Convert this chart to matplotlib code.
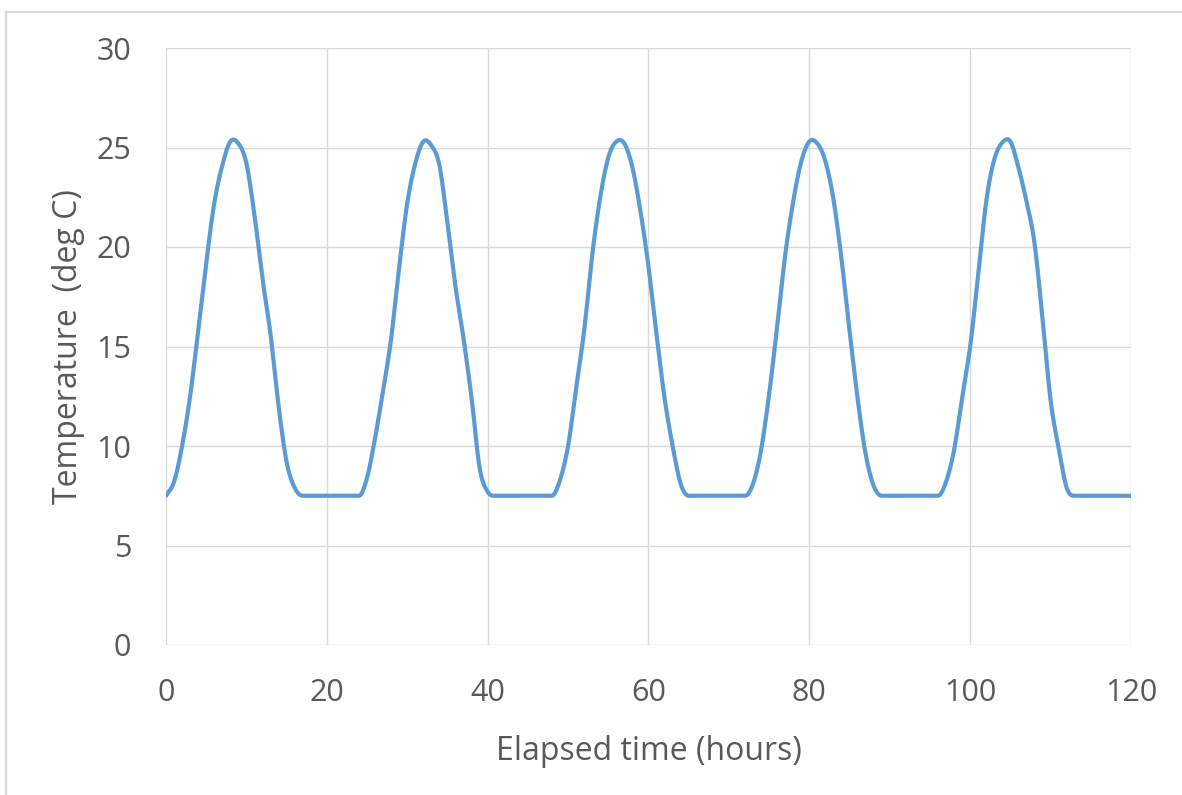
import numpy as np
import matplotlib
matplotlib.use("Agg")
import matplotlib.pyplot as plt
from matplotlib.patches import Rectangle

# Hourly temperature record over five days
hours = list(range(0, 121))
temps = [
    # day 1
    7.5, 8.2, 10.0, 12.5, 15.8, 19.2, 22.2, 24.1, 25.3, 25.2, 24.2, 21.6,
    18.4, 15.6, 12.0, 9.2, 7.9, 7.5, 7.5, 7.5, 7.5, 7.5, 7.5, 7.5,
    # day 2
    7.5, 8.4, 10.4, 12.8, 15.4, 19.0, 22.2, 24.2, 25.3, 25.1, 24.1, 21.2,
    18.0, 15.4, 12.4, 8.9, 7.7, 7.5, 7.5, 7.5, 7.5, 7.5, 7.5, 7.5,
    # day 3
    7.5, 8.3, 10.0, 12.9, 15.8, 19.6, 22.5, 24.5, 25.3, 25.2, 24.0, 21.8,
    19.0, 15.6, 12.4, 10.0, 8.1, 7.5, 7.5, 7.5, 7.5, 7.5, 7.5, 7.5,
    # day 4
    7.5, 8.1, 9.8, 12.6, 16.0, 19.6, 22.3, 24.3, 25.3, 25.2, 24.3, 22.4,
    19.4, 15.8, 12.4, 9.6, 8.0, 7.5, 7.5, 7.5, 7.5, 7.5, 7.5, 7.5,
    # day 5
    7.5, 8.2, 9.8, 12.4, 15.0, 18.6, 22.3, 24.4, 25.25, 25.3, 24.0, 22.3,
    20.2, 16.4, 12.3, 9.9, 7.9, 7.5, 7.5, 7.5, 7.5, 7.5, 7.5, 7.5,
    # end
    7.5,
]

x_ticks = [0, 20, 40, 60, 80, 100, 120]
y_ticks = [0, 5, 10, 15, 20, 25, 30]
x_label = "Elapsed time (hours)"
y_label = "Temperature  (deg C)"


def smooth_curve(x, y, steps=24):
    """Cardinal-spline curve through every data point; tangents are held
    level where the series meets a flat stretch so it never dips below it."""
    x = np.asarray(x, float)
    y = np.asarray(y, float)
    h = np.diff(x)
    d = np.diff(y) / h
    m = np.zeros_like(y)
    m[0], m[-1] = d[0], d[-1]
    for i in range(1, len(y) - 1):
        if d[i - 1] == 0 or d[i] == 0:
            m[i] = 0.0
        else:
            m[i] = (y[i + 1] - y[i - 1]) / (x[i + 1] - x[i - 1])
    xs, ys = [], []
    t = np.linspace(0, 1, steps, endpoint=False)
    h00 = 2 * t ** 3 - 3 * t ** 2 + 1
    h10 = t ** 3 - 2 * t ** 2 + t
    h01 = -2 * t ** 3 + 3 * t ** 2
    h11 = t ** 3 - t ** 2
    for i in range(len(y) - 1):
        xs.append(x[i] + t * h[i])
        ys.append(h00 * y[i] + h10 * h[i] * m[i] + h01 * y[i + 1]
                  + h11 * h[i] * m[i + 1])
    xs.append([x[-1]])
    ys.append([y[-1]])
    return np.concatenate(xs), np.concatenate(ys)


plt.rcParams["font.family"] = ["Open Sans", "DejaVu Sans"]

W, H = 1182, 795
fig = plt.figure(figsize=(W / 100, H / 100), dpi=100)
fig.patch.set_facecolor("white")

# light chart-area border (top and left edges)
fig.add_artist(Rectangle((6 / W, -0.05), 1.2, (H - 12) / H + 0.05,
                         transform=fig.transFigure, fill=False,
                         edgecolor="#d9d9d9", linewidth=1.6))

ax = fig.add_axes([166 / W, (H - 645) / H, (1131 - 166) / W, (645 - 48) / H])

sx, sy = smooth_curve(hours, temps)
ax.plot(sx, sy, color="#5B9BD5", linewidth=3.0, solid_capstyle="round",
        solid_joinstyle="round", zorder=3)

ax.set_xlim(0, 120)
ax.set_ylim(0, 30)
ax.set_xticks(x_ticks)
ax.set_yticks(y_ticks)
ax.grid(True, color="#d9d9d9", linewidth=1.0)
ax.set_axisbelow(True)
for side in ["left", "bottom", "top", "right"]:
    ax.spines[side].set_visible(False)
ax.tick_params(axis="both", length=0, labelsize=22, colors="#595959")
ax.tick_params(axis="y", pad=25)
ax.tick_params(axis="x", pad=24)

ax.set_xlabel(x_label, fontsize=23, color="#595959", labelpad=19)
ax.set_ylabel(y_label, fontsize=23, color="#595959", labelpad=8)

fig.savefig("out.png", dpi=100, facecolor="white")
